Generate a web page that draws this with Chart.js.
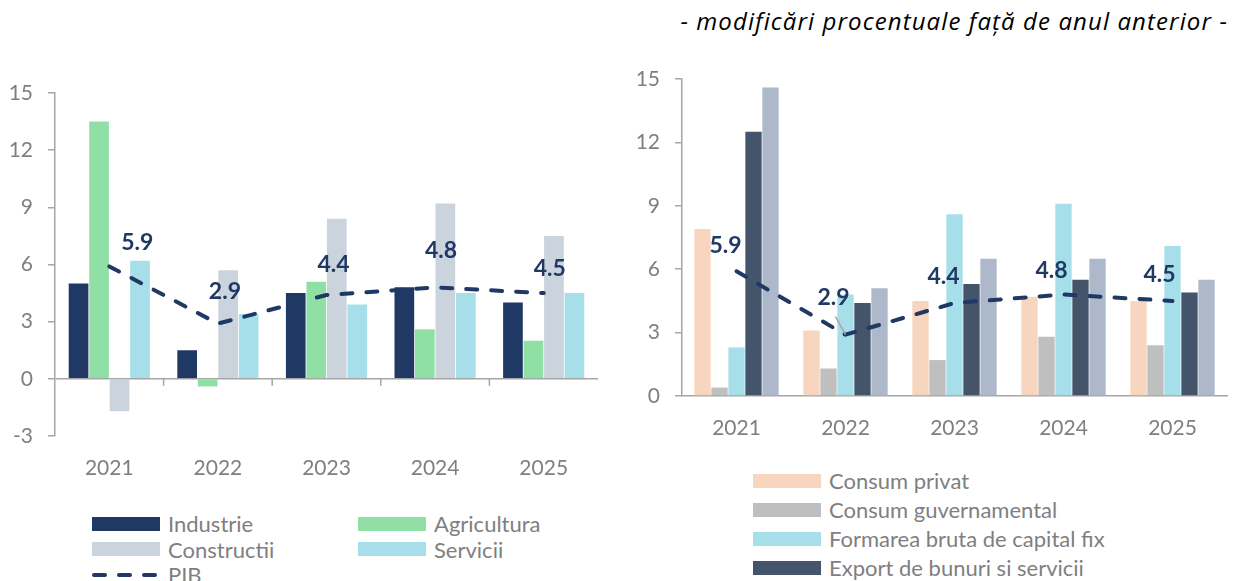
<!DOCTYPE html>
<html>
<head>
<meta charset="utf-8">
<script src="https://cdn.jsdelivr.net/npm/chart.js@4.4.0/dist/chart.umd.min.js"></script>
<style>
    body { margin: 0; width: 1233px; height: 581px; overflow: hidden; background: #fff; position: relative; font-family: Lato, sans-serif; }
    #title { position: absolute; right: 5px; top: 4px; font-family: 'Open Sans', sans-serif; font-style: italic; font-size: 24px; letter-spacing: 1.1px; color: #000; white-space: nowrap; }
    .box { position: absolute; }
    .legend { position: absolute; color: #7f7f7f; font-size: 22px; }
    .item { display: flex; align-items: center; white-space: nowrap; }
    .swatch { width: 68px; height: 14px; margin-right: 8px; flex: none; }
    .swatch svg { display: block; }
</style>
</head>
<body>
<div id="title">- modificări procentuale față de anul anterior -</div>
<div class="box" style="left:0;top:80px;width:610px;height:420px"><canvas id="sectorChart"></canvas></div>
<div class="box" style="left:620px;top:60px;width:613px;height:400px"><canvas id="demandChart"></canvas></div>
<div class="legend" id="sectorLegend" style="left:92px;top:511px;display:grid;grid-template-columns:266px 266px;grid-auto-rows:25.5px"></div>
<div class="legend" id="demandLegend" style="left:753px;top:466px;display:grid;grid-auto-rows:29px"></div>
<script>
// years and values (% change vs previous year)
const years = ['2021', '2022', '2023', '2024', '2025'];
const pib = [5.9, 2.9, 4.4, 4.8, 4.5];

// left chart - sectors
const industrie = [5.0, 1.5, 4.5, 4.8, 4.0];
const agricultura = [13.5, -0.4, 5.1, 2.6, 2.0];
const constructii = [-1.7, 5.7, 8.4, 9.2, 7.5];
const servicii = [6.2, 3.4, 3.9, 4.5, 4.5];
const sectorTicks = [-3, 0, 3, 6, 9, 12, 15];

// right chart - demand components
const consumPrivat = [7.9, 3.1, 4.5, 4.7, 4.5];
const consumGuv = [0.4, 1.3, 1.7, 2.8, 2.4];
const formareaCapital = [2.3, 4.8, 8.6, 9.1, 7.1];
const exportBS = [12.5, 4.4, 5.3, 5.5, 4.9];
const importBS = [14.6, 5.1, 6.5, 6.5, 5.5];
const demandTicks = [0, 3, 6, 9, 12, 15];

const gray = '#7f7f7f';
const axisGray = '#a6a6a6';
const navy = '#1f3864';
const tickFont = { family: 'Lato', size: 21 };

// PIB value labels, drawn next to the line points
const pibLabels = {
    id: 'pibLabels',
    afterDatasetsDraw(chart, args, opts) {
        const meta = chart.getDatasetMeta(opts.index);
        const values = chart.data.datasets[opts.index].data;
        const ctx = chart.ctx;
        ctx.save();
        // leader line for a label pulled away from its point
        if (opts.leader != null) {
            const p = meta.data[opts.leader];
            ctx.strokeStyle = '#a6a6a6';
            ctx.lineWidth = 1.5;
            ctx.beginPath();
            ctx.moveTo(p.x, p.y);
            ctx.lineTo(p.x - 10, p.y - 18);
            ctx.stroke();
        }
        ctx.font = 'bold 23px Lato';
        ctx.fillStyle = navy;
        ctx.textAlign = 'center';
        ctx.textBaseline = 'middle';
        meta.data.forEach((pt, i) => {
            ctx.fillText(values[i].toFixed(1), pt.x + opts.dx[i], pt.y + opts.dy[i]);
        });
        ctx.restore();
    }
};

// small tick marks on the zero line between categories
const zeroTicks = {
    id: 'zeroTicks',
    afterDatasetsDraw(chart) {
        const xs = chart.scales.x;
        const y0 = chart.scales.y.getPixelForValue(0);
        const ctx = chart.ctx;
        ctx.save();
        ctx.strokeStyle = axisGray;
        ctx.lineWidth = 1.5;
        for (let i = 1; i < years.length; i++) {
            const x = (xs.getPixelForTick(i - 1) + xs.getPixelForTick(i)) / 2;
            ctx.beginPath();
            ctx.moveTo(x, y0);
            ctx.lineTo(x, y0 + 7);
            ctx.stroke();
        }
        ctx.restore();
    }
};

function pibDataset() {
    return {
        type: 'line',
        label: 'PIB',
        data: pib,
        borderColor: navy,
        borderWidth: 4,
        borderDash: [11, 14],
        borderCapStyle: 'round',
        pointRadius: 0,
        fill: false,
        order: 0
    };
}

function barDataset(label, data, color) {
    return { label: label, data: data, backgroundColor: color, borderWidth: 0, order: 1 };
}

// fixed y axis width, and let layout.padding alone decide the top gap
function fitY(width) {
    return s => {
        s.width = width;
        s.paddingTop = 0;
        s.paddingBottom = 0;
    };
}

const sectorSeries = [
    ['Industrie', industrie, '#1f3864'],
    ['Agricultura', agricultura, '#90e0a5'],
    ['Constructii', constructii, '#cbd3dd'],
    ['Servicii', servicii, '#a6dfe9']
];

const demandSeries = [
    ['Consum privat', consumPrivat, '#f8d5bf'],
    ['Consum guvernamental', consumGuv, '#bfbfbf'],
    ['Formarea bruta de capital fix', formareaCapital, '#a6dfe9'],
    ['Export de bunuri si servicii', exportBS, '#44546a'],
    ['Import de bunuri si servicii', importBS, '#adb9ca']
];

Chart.defaults.animation = false;

new Chart(document.getElementById('sectorChart'), {
    type: 'bar',
    data: {
        labels: years,
        datasets: sectorSeries.map(s => barDataset(s[0], s[1], s[2])).concat([pibDataset()])
    },
    options: {
        responsive: true,
        maintainAspectRatio: false,
        categoryPercentage: 0.755,
        barPercentage: 0.96,
        layout: { padding: { top: 13, right: 12, left: 0, bottom: 0 } },
        scales: {
            x: {
                grid: { display: false, drawTicks: false },
                border: { display: false },
                ticks: { color: gray, font: tickFont, padding: 20 },
                afterFit: s => { s.height = 64; }
            },
            y: {
                min: sectorTicks[0],
                max: sectorTicks[sectorTicks.length - 1],
                afterBuildTicks: s => { s.ticks = sectorTicks.map(v => ({ value: v })); },
                ticks: { color: gray, font: tickFont, padding: 15 },
                border: { color: axisGray, width: 1.5 },
                grid: {
                    color: c => (c.tick && c.tick.value === 0 ? axisGray : 'rgba(0,0,0,0)'),
                    lineWidth: 1.5,
                    tickColor: axisGray,
                    tickLength: 7
                },
                afterFit: fitY(55)
            }
        },
        plugins: {
            legend: { display: false },
            tooltip: { enabled: false },
            pibLabels: { index: 4, dx: [28, 7, 7, 6, 6], dy: [-24, -32, -30, -37, -25] }
        }
    },
    plugins: [pibLabels, zeroTicks]
});

new Chart(document.getElementById('demandChart'), {
    type: 'bar',
    data: {
        labels: years,
        datasets: demandSeries.map(s => barDataset(s[0], s[1], s[2])).concat([pibDataset()])
    },
    options: {
        responsive: true,
        maintainAspectRatio: false,
        categoryPercentage: 0.78,
        barPercentage: 0.96,
        layout: { padding: { top: 19, right: 6, left: 0, bottom: 0 } },
        scales: {
            x: {
                grid: { display: false, drawTicks: false },
                border: { color: axisGray, width: 1.5 },
                ticks: { color: gray, font: tickFont, padding: 20 },
                afterFit: s => { s.height = 64; }
            },
            y: {
                min: demandTicks[0],
                max: demandTicks[demandTicks.length - 1],
                afterBuildTicks: s => { s.ticks = demandTicks.map(v => ({ value: v })); },
                ticks: { color: gray, font: tickFont, padding: 15 },
                border: { color: axisGray, width: 1.5 },
                grid: { drawOnChartArea: false, color: axisGray, lineWidth: 1.5, tickLength: 7 },
                afterFit: fitY(62)
            }
        },
        plugins: {
            legend: { display: false },
            tooltip: { enabled: false },
            pibLabels: { index: 5, leader: 1, dx: [-11, -12, -11, -12, -13], dy: [-26, -37, -26, -24, -26] }
        }
    },
    plugins: [pibLabels]
});

// html legends built from the series lists
function swatch(color) {
    const s = document.createElement('span');
    s.className = 'swatch';
    s.style.background = color;
    return s;
}

function dashSwatch() {
    const s = document.createElement('span');
    s.className = 'swatch';
    s.style.height = '8px';
    s.innerHTML = '<svg width="68" height="8"><line x1="2" y1="4" x2="66" y2="4" stroke="' + navy +
        '" stroke-width="4" stroke-linecap="round" stroke-dasharray="11 14"/></svg>';
    return s;
}

function addItem(box, sw, text) {
    const it = document.createElement('div');
    it.className = 'item';
    it.appendChild(sw);
    it.appendChild(document.createTextNode(text));
    box.appendChild(it);
}

const sectorLegend = document.getElementById('sectorLegend');
sectorSeries.forEach(s => addItem(sectorLegend, swatch(s[2]), s[0]));
addItem(sectorLegend, dashSwatch(), 'PIB');

const demandLegend = document.getElementById('demandLegend');
demandSeries.slice(0, 4).forEach(s => addItem(demandLegend, swatch(s[2]), s[0]));
</script>
</body>
</html>
